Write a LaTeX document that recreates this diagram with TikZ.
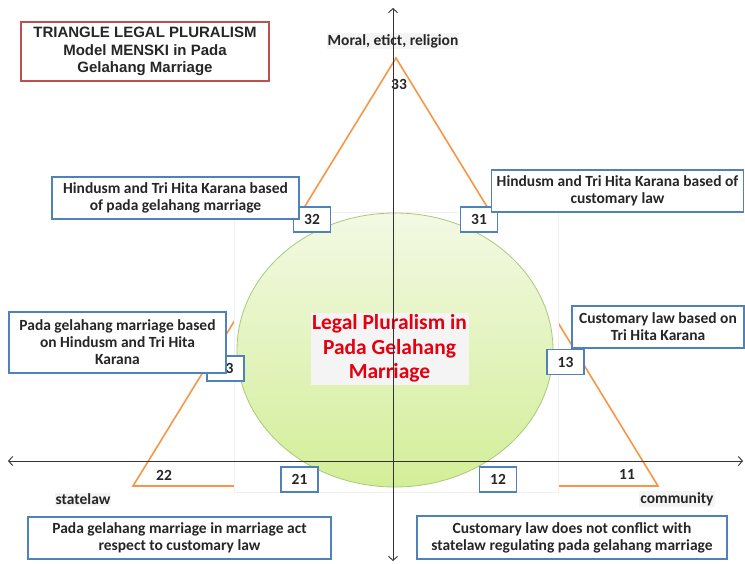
\documentclass[tikz,border=0pt]{standalone}
\usepackage{fontspec}
\setmainfont{Carlito}
\newfontfamily\arialf{Liberation Sans}
\usetikzlibrary{arrows.meta}
\definecolor{boxblue}{HTML}{4F81BD}
\definecolor{titlered}{HTML}{C0504D}
\definecolor{triorange}{HTML}{F79646}
\definecolor{ellborder}{HTML}{A9C97A}
\definecolor{elltop}{HTML}{F3F9E4}
\definecolor{ellbot}{HTML}{D3EE98}
\definecolor{lpred}{HTML}{E3000F}
\definecolor{txtgray}{HTML}{262626}
\definecolor{labelbg}{HTML}{F4F4F4}
\begin{document}
\begin{tikzpicture}[x=1pt,y=-1pt,
  txtbox/.style={draw=boxblue, line width=1.6pt, fill=white, align=center,
    font=\bfseries\fontsize{15.5}{17}\selectfont, text=txtgray, inner sep=0pt},
  numbox/.style={draw=boxblue, line width=1.6pt, fill=white,
    font=\bfseries\fontsize{15.5}{17}\selectfont, text=txtgray,
    minimum width=37pt, minimum height=25pt, inner sep=0pt},
  plainlbl/.style={font=\bfseries\fontsize{15.5}{17}\selectfont, text=txtgray, inner sep=1pt},
  bglbl/.style={plainlbl, fill=labelbg},
  tri/.style={draw=triorange, line width=1.6pt, line join=miter},
  axis/.style={draw=black!80, line width=0.9pt, {Straight Barb[length=4pt,width=9pt]}-{Straight Barb[length=4pt,width=9pt]}}
]
\useasboundingbox (0,0) rectangle (745,563);

% triangle
\coordinate (apex) at (396,58);
\coordinate (baseL) at (133,486);
\coordinate (baseR) at (658,486);
\draw[tri] (apex) -- (baseL) -- (baseR) -- cycle;

% white cover panel
\fill[white] (234,212) rectangle (558,492);
\draw[black!6, line width=0.6pt] (234,212) rectangle (558,492);

% ellipse
\shade[top color=elltop, bottom color=ellbot, draw=ellborder, line width=0.8pt]
  (395,350) ellipse [x radius=158pt, y radius=137pt];

% central text
\node[fill=labelbg, text=lpred, align=center, inner sep=0pt,
      minimum width=158pt, minimum height=72pt,
      font=\bfseries\fontsize{21.5}{24.5}\selectfont] (center) at (389.5,348.5)
  {Legal Pluralism in\\Pada Gelahang\\Marriage};

% title
\node[draw=titlered, line width=1.6pt, fill=white, align=center, inner sep=0pt,
      minimum width=248pt, minimum height=59pt, text=txtgray,
      font=\arialf\bfseries\fontsize{15}{17.5}\selectfont] (title) at (145,51.5)
  {TRIANGLE LEGAL PLURALISM\\Model MENSKI in Pada\\Gelahang Marriage};

% labels
\node[bglbl] (moral) at (393,41) {Moral, etict, religion};
\node[plainlbl] (t33) at (399,84) {33};
\node[plainlbl] (t22) at (164,475) {22};
\node[plainlbl] (t11) at (627,474) {11};
\node[bglbl] (state) at (83,499) {statelaw};
\node[bglbl] (comm) at (677,499) {community};

% number boxes and text boxes
\node[numbox] (n32) at (312,219.5) {32};
\node[txtbox, minimum width=247pt, minimum height=42pt] (b32) at (175.5,198)
  {Hindusm and Tri Hita Karana based\\of pada gelahang marriage};

\node[numbox] (n31) at (479,219.5) {31};
\node[txtbox, minimum width=252pt, minimum height=42pt] (b31) at (617.5,191)
  {Hindusm and Tri Hita Karana based of\\customary law};

\node[numbox] (n23) at (225.5,368.5) {\phantom{2}3};
\node[txtbox, minimum width=217pt, minimum height=61pt] (b23) at (117.5,342.5)
  {Pada gelahang marriage based\\on Hindusm and Tri Hita\\Karana};

\node[numbox] (n13) at (565.5,362) {13};
\node[txtbox, minimum width=172pt, minimum height=42pt] (b13) at (658,327)
  {Customary law based on\\Tri Hita Karana};

\node[numbox] (n21) at (299.5,479.5) {21};
\node[numbox] (n12) at (498,479.5) {12};

\node[txtbox, minimum width=303pt, minimum height=42pt] (bL) at (179.5,538)
  {Pada gelahang marriage in marriage act\\respect to customary law};
\node[txtbox, minimum width=310pt, minimum height=43pt] (bR) at (572,537.5)
  {Customary law does not conflict with\\statelaw regulating pada gelahang marriage};

% axes
\coordinate (axL) at (8,461);
\coordinate (axR) at (743,461);
\coordinate (axT) at (393,8);
\coordinate (axB) at (393,561);
\draw[axis] (axL) -- (axR);
\draw[axis] (axT) -- (axB);
\end{tikzpicture}
\end{document}
